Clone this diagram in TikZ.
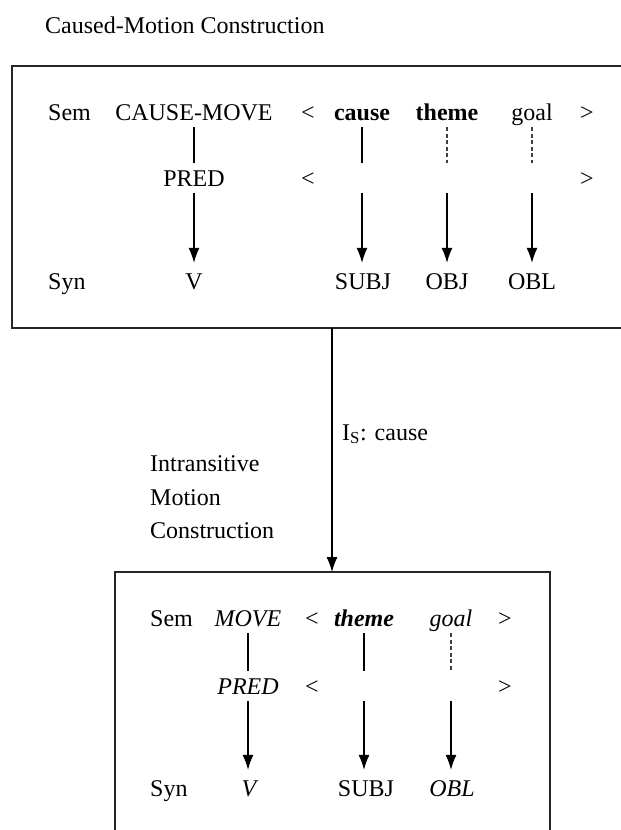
\documentclass[tikz,border=0pt]{standalone}
\usepackage{fontspec}
\setmainfont{Liberation Serif}
\usetikzlibrary{arrows.meta}
\begin{document}
\begin{tikzpicture}[x=1pt,y=-1pt,
  every node/.style={font=\fontsize{24}{28}\selectfont},
  word/.style={inner xsep=0pt, inner ysep=7pt, text height=16pt, text depth=0pt, anchor=base},
  lbl/.style={inner sep=0pt, anchor=base west},
  link/.style={line width=1.1pt, draw=black},
  dlink/.style={line width=1.2pt, draw=black!75, dash pattern=on 4pt off 2.5pt},
  arr/.style={line width=1.1pt, -{Latex[length=15pt,width=11pt]}, shorten >=3pt},
  frame/.style={line width=1.5pt, draw=black!85}]
\useasboundingbox (0,0) rectangle (621,830);

% title
\node[lbl] (title) at (45,33) {Caused-Motion Construction};

% top frame
\draw[frame] (621,66) -- (12,66) -- (12,328) -- (621,328);

% top box: Sem row
\node[lbl] (sem1) at (48,120) {Sem};
\node[word] (cm) at (194,120) {CAUSE-MOVE};
\node[word] (lt1) at (308,120) {<};
\node[word] (cause) at (362,120) {\textbf{cause}};
\node[word] (theme1) at (447,120) {\textbf{theme}};
\node[word] (goal1) at (532,120) {goal};
\node[word] (gt1) at (587,120) {>};
% PRED row
\node[word] (pred1) at (194,186) {PRED};
\node[word] (lt2) at (308,186) {<};
\node[word] (gt2) at (587,186) {>};
\node[word] (sc) at (362,186) {};
\node[word] (st) at (447,186) {};
\node[word] (sg) at (532,186) {};
% Syn row
\node[lbl] (syn1) at (48,289) {Syn};
\node[word] (v1) at (194,289) {V};
\node[word] (subj1) at (363,289) {SUBJ};
\node[word] (obj1) at (447,289) {OBJ};
\node[word] (obl1) at (532,289) {OBL};

\draw[link] (cm.south) -- (pred1.north);
\draw[arr] (pred1.south) -- (pred1.south |- v1.north);
\draw[link] (cause.south) -- (sc.north);
\draw[arr] (sc.south) -- (sc.south |- subj1.north);
\draw[dlink] (theme1.south) -- (st.north);
\draw[arr] (st.south) -- (st.south |- obj1.north);
\draw[dlink] (goal1.south) -- (sg.north);
\draw[arr] (sg.south) -- (sg.south |- obl1.north);

% connector between constructions
\coordinate (ctop) at (332,328);
\coordinate (cbot) at (332,572);
\draw[arr, shorten >=0pt] (ctop) -- (cbot);
\node[lbl] (is) at (342,440) {I\textsubscript{S}: cause};

\node[lbl] (intr1) at (150,471) {Intransitive};
\node[lbl] (intr2) at (150,505) {Motion};
\node[lbl] (intr3) at (150,538) {Construction};

% bottom frame
\draw[frame] (115,830) -- (115,572) -- (550,572) -- (550,830);

% bottom box: Sem row
\node[lbl] (sem2) at (150,626) {Sem};
\node[word] (move) at (248,626) {\textit{MOVE}};
\node[word] (lt3) at (312,626) {<};
\node[word] (theme2) at (364,626) {\textbf{\textit{theme}}};
\node[word] (goal2) at (451,626) {\textit{goal}};
\node[word] (gt3) at (505,626) {>};
% PRED row
\node[word] (pred2) at (248,694) {\textit{PRED}};
\node[word] (lt4) at (312,694) {<};
\node[word] (gt4) at (505,694) {>};
\node[word] (st2) at (364,694) {};
\node[word] (sg2) at (451,694) {};
% Syn row
\node[lbl] (syn2) at (150,796) {Syn};
\node[word] (v2) at (250,796) {\textit{V}};
\node[word] (subj2) at (366,796) {SUBJ};
\node[word] (obl2) at (452,796) {\textit{OBL}};

\draw[link] (move.south) -- (pred2.north);
\draw[arr] (pred2.south) -- (pred2.south |- v2.north);
\draw[link] (theme2.south) -- (st2.north);
\draw[arr] (st2.south) -- (st2.south |- subj2.north);
\draw[dlink] (goal2.south) -- (sg2.north);
\draw[arr] (sg2.south) -- (sg2.south |- obl2.north);
\end{tikzpicture}
\end{document}
